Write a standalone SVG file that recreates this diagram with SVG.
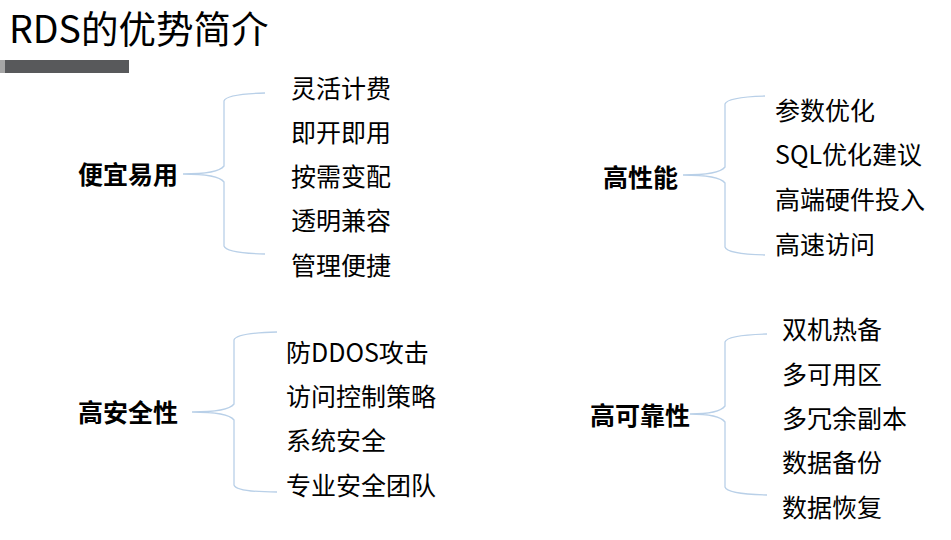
<svg xmlns="http://www.w3.org/2000/svg" width="951" height="540" viewBox="0 0 951 540">
<style>
text{font-family:"Noto Sans CJK SC","Microsoft YaHei",sans-serif;fill:#000}
.item{font-size:25px;dominant-baseline:central}
.head{font-size:25px;font-weight:bold;dominant-baseline:central}
.brace{fill:none;stroke:#b9d0e8;stroke-width:1.3}
</style>
<rect width="951" height="540" fill="#fff"/>
<g id="title">
<text x="9" y="26" font-size="37.5" style="dominant-baseline:central">RDS的优势简介</text>
<rect x="0" y="60" width="129" height="13" fill="#58595b"/>
<rect x="0" y="60" width="5" height="13" fill="#a6a6a6"/>
</g>
<g id="connectors">
<path class="brace" d="M183,174 Q218,174 224,166 L224,101 Q226,94 265,93 M183,174 Q218,174 224,182 L224,246 Q226,253 265,254"/>
<path class="brace" d="M683,175 Q719,175 725,167 L725,104 Q727,97 765,96 M683,175 Q719,175 725,183 L725,247 Q727,254 765,255"/>
<path class="brace" d="M192,412 Q228,412 234,404 L234,340 Q236,333 277,332 M192,412 Q228,412 234,420 L234,485 Q236,492 277,492"/>
<path class="brace" d="M690,414 Q719,414 725,406 L725,342 Q727,335 767,334 M690,414 Q719,414 725,422 L725,487 Q727,494 767,495"/>
</g>
<g id="node-cheap">
<text class="head" x="78" y="173">便宜易用</text>
<text class="item" x="291" y="87">灵活计费</text>
<text class="item" x="291" y="131">即开即用</text>
<text class="item" x="291" y="175">按需变配</text>
<text class="item" x="291" y="219">透明兼容</text>
<text class="item" x="291" y="264">管理便捷</text>
</g>
<g id="node-perf">
<text class="head" x="603" y="176">高性能</text>
<text class="item" x="775" y="109">参数优化</text>
<text class="item" x="775" y="153">SQL优化建议</text>
<text class="item" x="775" y="198">高端硬件投入</text>
<text class="item" x="775" y="243">高速访问</text>
</g>
<g id="node-security">
<text class="head" x="78" y="411">高安全性</text>
<text class="item" x="286" y="351">防DDOS攻击</text>
<text class="item" x="286" y="395">访问控制策略</text>
<text class="item" x="286" y="439">系统安全</text>
<text class="item" x="286" y="484">专业安全团队</text>
</g>
<g id="node-reliability">
<text class="head" x="590" y="414">高可靠性</text>
<text class="item" x="782" y="328">双机热备</text>
<text class="item" x="782" y="373">多可用区</text>
<text class="item" x="782" y="417">多冗余副本</text>
<text class="item" x="782" y="461">数据备份</text>
<text class="item" x="782" y="506">数据恢复</text>
</g>
</svg>
